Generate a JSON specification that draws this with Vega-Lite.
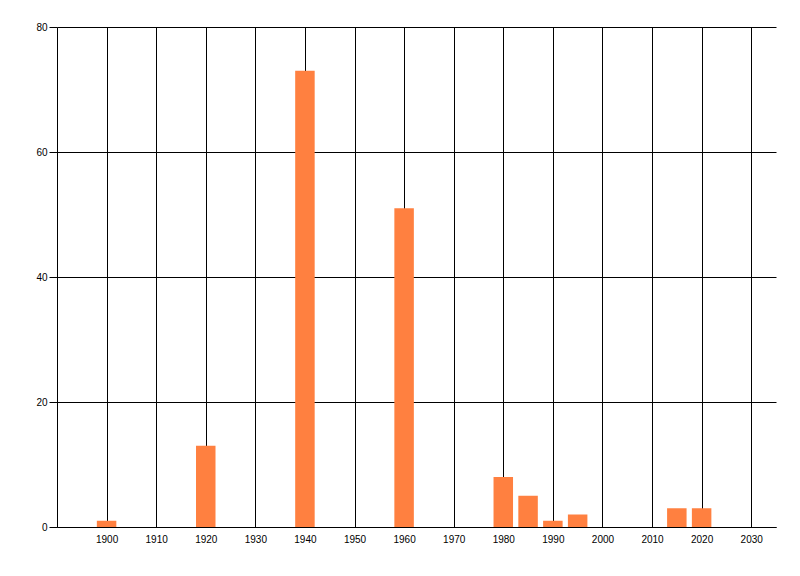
{
  "$schema": "https://vega.github.io/schema/vega-lite/v6.json",
  "width": 719,
  "height": 500,
  "autosize": {"type": "none"},
  "padding": {"left": 57, "top": 27, "right": 24, "bottom": 49},
  "background": "white",
  "config": {
    "view": {"stroke": null},
    "axis": {"labelFont": "Liberation Sans", "labelFontSize": 10, "labelColor": "black", "gridColor": "black", "gridOpacity": 1, "gridWidth": 1, "domainColor": "black", "domainWidth": 1, "tickColor": "black"}
  },
  "data": {
    "values": [
      {"year": 1900, "count": 1},
      {"year": 1920, "count": 13},
      {"year": 1940, "count": 73},
      {"year": 1960, "count": 51},
      {"year": 1980, "count": 8},
      {"year": 1985, "count": 5},
      {"year": 1990, "count": 1},
      {"year": 1995, "count": 2},
      {"year": 2015, "count": 3},
      {"year": 2020, "count": 3}
    ]
  },
  "mark": {"type": "bar", "color": "#FF8040", "size": 19.5, "opacity": 1},
  "encoding": {
    "x": {
      "field": "year",
      "type": "quantitative",
      "scale": {"domain": [1890, 2035], "nice": false, "zero": false, "padding": 0},
      "axis": {"title": null, "values": [1900, 1910, 1920, 1930, 1940, 1950, 1960, 1970, 1980, 1990, 2000, 2010, 2020, 2030], "format": "d", "ticks": false, "labelPadding": 7, "grid": true, "labelFlush": false}
    },
    "y": {
      "field": "count",
      "type": "quantitative",
      "scale": {"domain": [0, 80], "nice": false, "padding": 0},
      "axis": {"title": null, "values": [0, 20, 40, 60, 80], "tickSize": 8, "labelPadding": 2, "grid": true, "labelFlush": false}
    }
  }
}
